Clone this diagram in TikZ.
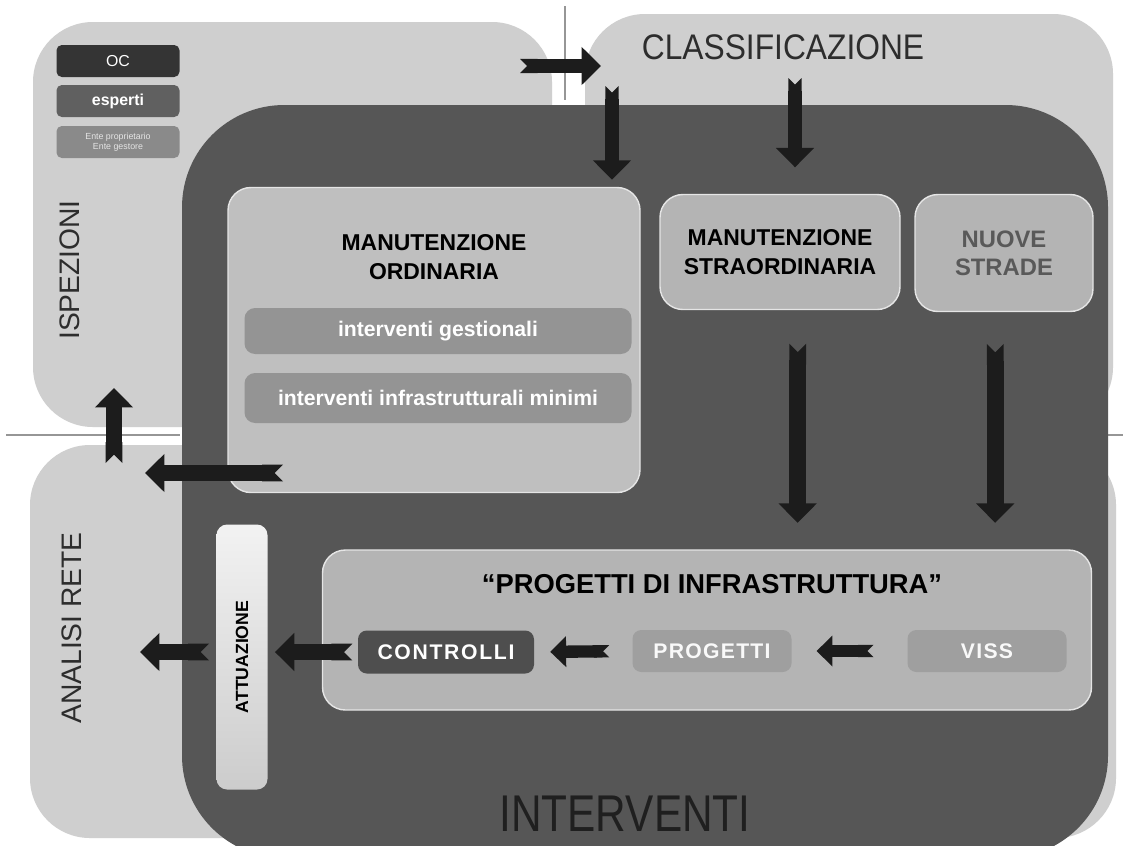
\documentclass[tikz,border=0pt]{standalone}
\usepackage{fontspec}
\setmainfont{Liberation Sans}
\usepackage{graphicx}
\usepackage{tikz}
\usetikzlibrary{arrows.meta, positioning, calc}
\definecolor{panellight}{RGB}{207,207,207}
\definecolor{paneldark}{RGB}{86,86,86}
\definecolor{boxgrey}{RGB}{180,180,180}
\definecolor{subgrey}{RGB}{148,148,148}
\definecolor{ctrlgrey}{RGB}{78,78,78}
\definecolor{arrowdark}{RGB}{28,28,28}
\definecolor{seplines}{RGB}{150,150,150}
\definecolor{legendoc}{RGB}{52,52,52}
\definecolor{legendesp}{RGB}{96,96,96}
\definecolor{legendente}{RGB}{138,138,138}
\definecolor{labelgrey}{RGB}{45,45,45}
\newcommand{\upx}{0.5669pt}

\tikzset{
  blockarrow/.style={draw=arrowdark, line width=9.5pt,
    {Triangle Cap[reversed]}-{Triangle[width=21pt,length=11pt]}},
  smallarrow/.style={draw=arrowdark, line width=7pt,
    {Triangle Cap[reversed]}-{Triangle[width=17pt,length=9pt]}},
  greybox/.style={fill=boxgrey, draw=white!80!gray, line width=0.8pt,
    rounded corners=13pt, align=center},
  subbox/.style={fill=subgrey, rounded corners=6pt, text=white,
    font=\fontsize{12}{14}\selectfont\bfseries},
  legendbox/.style={rounded corners=3pt, minimum width=123*\upx,
    minimum height=32*\upx, inner sep=0pt, text=white},
  sidelabel/.style={text=labelgrey, rotate=90,
    font=\fontsize{16}{18}\selectfont}
}

\begin{document}
\begin{tikzpicture}[x=\upx, y=-\upx]
  \useasboundingbox (0,0) rectangle (1123,845);
  \clip (0,0) rectangle (1123,845);
  \fill[white] (0,0) rectangle (1123,845);

  \draw[seplines, line width=0.8pt] (565,6) -- (565,100);
  \draw[seplines, line width=0.8pt] (6,435) -- (180,435);
  \draw[seplines, line width=0.8pt] (1106,435) -- (1123,435);

  \fill[panellight, rounded corners=34pt] (33,22) rectangle (552,427);
  \fill[panellight, rounded corners=34pt] (585,14) rectangle (1113,427);
  \fill[panellight, rounded corners=34pt] (30,445) rectangle (552,838);
  \fill[panellight, rounded corners=34pt] (585,445) rectangle (1116,838);

  \fill[paneldark, rounded corners=58pt] (182,105) rectangle (1108,858);

  \node[sidelabel] (isp) at (70,270) {ISPEZIONI};
  \node[sidelabel] (anr) at (72,628) {ANALISI RETE};
  \node[text=labelgrey, font=\fontsize{18}{20}\selectfont] (cls) at (783,47)
    {\scalebox{1}[1.12]{CLASSIFICAZIONE}};
  \node[text=black!88, font=\fontsize{24}{26}\selectfont] (int) at (625,814)
    {\scalebox{1}[1.22]{INTERVENTI}};

  \node[legendbox, fill=legendoc, font=\fontsize{9}{10}\selectfont] (oc) at (118,61) {OC};
  \node[legendbox, fill=legendesp, font=\fontsize{9}{10}\selectfont\bfseries] (esp) at (118,101) {esperti};
  \node[legendbox, fill=legendente, text=white!80!gray, align=center,
        font=\fontsize{5}{5.5}\selectfont] (ente) at (118,142) {Ente proprietario\\Ente gestore};

  \node[greybox, fill=boxgrey!85!white, minimum width=412*\upx, minimum height=305*\upx] (mo) at (434,340) {};
  \node[font=\fontsize{13}{16}\selectfont\bfseries, align=center] (motitle) at (434,257)
    {MANUTENZIONE\\ORDINARIA};
  \node[subbox, minimum width=387*\upx, minimum height=46*\upx] (ig) at (438,331) {interventi gestionali};
  \node[subbox, minimum width=387*\upx, minimum height=50*\upx] (iim) at (438,398) {interventi infrastrutturali minimi};

  \node[greybox, minimum width=240*\upx, minimum height=115*\upx,
        font=\fontsize{13}{16}\selectfont\bfseries] (ms) at (780,252) {MANUTENZIONE\\STRAORDINARIA};
  \node[greybox, minimum width=178*\upx, minimum height=117*\upx, text=black!65,
        font=\fontsize{13.5}{16}\selectfont\bfseries] (ns) at (1004,253) {NUOVE\\STRADE};

  \node[greybox, minimum width=769*\upx, minimum height=160*\upx] (pi) at (707,630) {};
  \node[font=\fontsize{15.5}{18}\selectfont\bfseries] (pititle) at (712,584)
    {``PROGETTI DI INFRASTRUTTURA''};
  \node[fill=ctrlgrey, rounded corners=5pt, minimum width=176*\upx, minimum height=43*\upx,
        text=white, font=\fontsize{12}{14}\selectfont\bfseries\addfontfeature{LetterSpace=8}]
        (ctrl) at (446,652) {CONTROLLI};
  \node[fill=subgrey!90!white, rounded corners=5pt, minimum width=159*\upx, minimum height=42*\upx,
        text=white!95!gray, font=\fontsize{12}{14}\selectfont\bfseries\addfontfeature{LetterSpace=6}]
        (prog) at (712,651) {PROGETTI};
  \node[fill=subgrey!90!white, rounded corners=5pt, minimum width=159*\upx, minimum height=42*\upx,
        text=white!95!gray, font=\fontsize{12}{14}\selectfont\bfseries\addfontfeature{LetterSpace=6}]
        (viss) at (987,651) {VISS};

  \node[rotate=90, rounded corners=6pt, top color=gray!10, bottom color=gray!40,
        minimum width=265*\upx, minimum height=51*\upx, inner sep=0pt,
        font=\fontsize{10}{12}\selectfont\bfseries] (att) at (242,657) {ATTUAZIONE};

  \coordinate (ispOut) at (520,66);
  \coordinate (clsIn) at (601,66);
  \coordinate (clsDownA) at (612,86);
  \coordinate (clsDownB) at (795,78);
  \coordinate (moOut) at (283,473);
  \coordinate (anrIn) at (145,473);
  \coordinate (anrUp) at (114,463);
  \coordinate (ispIn) at (114,388);
  \coordinate (anrLeft) at (140,652);

  \draw[blockarrow, line width=8pt] (ispOut) -- (clsIn);
  \draw[blockarrow, line width=7.5pt, shorten >=4pt] (clsDownA) -- (clsDownA |- mo.north);
  \draw[blockarrow, line width=7.5pt, shorten >=15pt] (clsDownB) -- (clsDownB |- ms.north);
  \draw[blockarrow, shorten <=19pt, shorten >=15pt] ([xshift=10pt]ms.south) -- ([xshift=10pt]ms.south |- pi.north);
  \draw[blockarrow, shorten <=18pt, shorten >=15pt] ([xshift=-5pt]ns.south) -- ([xshift=-5pt]ns.south |- pi.north);
  \draw[blockarrow] (moOut) -- (anrIn);
  \draw[blockarrow] (anrUp) -- (ispIn);
  \draw[smallarrow, shorten <=19pt, shorten >=14pt] (viss.west) -- (prog.east);
  \draw[smallarrow, shorten <=13pt, shorten >=9pt] (prog.west) -- (ctrl.west -| ctrl.east);
  \draw[blockarrow, shorten <=3pt, shorten >=4pt] (ctrl.west) -- (ctrl.west -| att.south);
  \draw[blockarrow, shorten <=4pt] (ctrl.west -| att.north) -- (anrLeft);
\end{tikzpicture}
\end{document}
